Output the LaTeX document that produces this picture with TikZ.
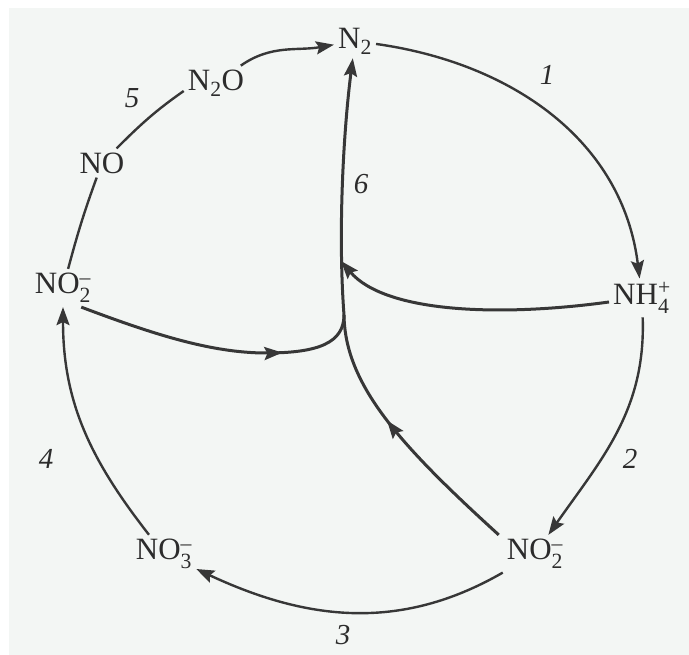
\documentclass[tikz,border=0pt]{standalone}
\usepackage{amsmath}
\usepackage{fontspec}
\setmainfont{Liberation Serif}
\usetikzlibrary{arrows.meta,decorations.markings}
\definecolor{paper}{RGB}{243,246,244}
\definecolor{ink}{RGB}{55,55,55}
\newcommand{\species}[3]{#1$_{\text{#2}}^{\text{#3}}$}

\begin{document}
\begin{tikzpicture}[x=1pt,y=1pt,font=\fontsize{31}{36}\selectfont,
  >={Stealth[length=18pt,width=13pt,inset=3pt]},
  cycle/.style={ink,line width=2.4pt},
  flow/.style={ink,line width=3pt},
  midarrow/.style={postaction={decorate},
    decoration={markings,mark=at position #1 with {\arrow{>}}}},
  spec/.style={text=ink!80!black,inner sep=4pt},
  num/.style={text=ink!80!black,font=\fontsize{29}{34}\selectfont\itshape}]
  % Sheet.
  \fill[white] (0,0) rectangle (689,655);
  \fill[paper] (9,0) rectangle (689,647);

  % Species.
  \node[spec] (N2) at (355,614) {N$_{\text{2}}$};
  \node[spec] (N2O) at (216,572) {N$_{\text{2}}$O};
  \node[spec] (NO) at (102,492) {NO};
  \node[spec] (NO2l) at (63,367) {\species{NO}{2}{--}};
  \node[spec] (NH4) at (642,357) {\species{NH}{4}{+}};
  \node[spec] (NO2r) at (535,101) {\species{NO}{2}{--}};
  \node[spec] (NO3) at (164,101) {\species{NO}{3}{--}};

  % Step numbers.
  \node[num] (s1) at (547,580) {1};
  \node[num] (s2) at (630,196) {2};
  \node[num] (s3) at (343,20) {3};
  \node[num] (s4) at (46,196) {4};
  \node[num] (s5) at (132,557) {5};
  \node[num] (s6) at (361,471) {6};

  % Outer cycle.
  \draw[cycle,->] (N2O) to[out=35,in=190] (N2);
  \draw[cycle,->] (N2) to[out=-8,in=97] (NH4);
  \draw[cycle,->] (NH4) to[out=-88,in=55] (NO2r);
  \draw[cycle,->] (NO2r) to[out=-150,in=-25] (NO3);
  \draw[cycle,->] (NO3) to[out=128,in=-90] (NO2l);
  \draw[cycle] (NO2l) to[out=75,in=-110] (NO);
  \draw[cycle] (NO) to[out=45,in=-145] ([yshift=-8pt]N2O.west);

  % Inner flows.
  \coordinate (J) at (341,394);
  \coordinate (K) at (344,340);
  \draw[flow,->] ([yshift=-4pt]NH4.west)
    .. controls (500,338) and (385,342) .. (J);
  \draw[flow,midarrow=0.72] ([xshift=-14pt]NO2l.south east)
    .. controls (150,322) and (210,302) .. (266,302)
    .. controls (318,302) and (344,312) .. (K);
  \draw[flow,midarrow=0.3,->] ([xshift=-4pt]NO2r.north west)
    .. controls (400,210) and (345,270) .. (K)
    .. controls (338,420) and (343,520) .. (N2);
\end{tikzpicture}
\end{document}
